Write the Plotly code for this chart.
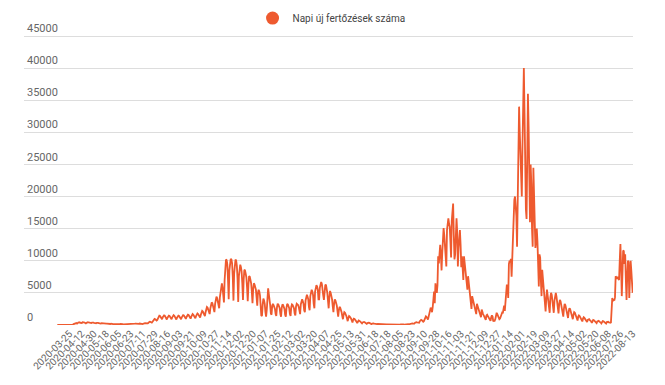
import pandas as pd
import plotly.graph_objects as go

series_name = "Napi új fertőzések száma"
line_color = "#EE5A2F"

# ---- category (date) axis --------------------------------------------------
daily_part_1 = pd.date_range("2020-03-07", "2021-06-18").strftime("%Y-%m-%d").tolist()
sparse_summer_2021 = [
    "2021-06-20", "2021-06-21", "2021-06-23", "2021-06-25", "2021-06-26", "2021-06-28",
    "2021-06-30", "2021-07-01", "2021-07-03", "2021-07-05", "2021-07-06", "2021-07-08",
    "2021-07-10", "2021-07-11", "2021-07-13", "2021-07-15", "2021-07-16",
]
daily_part_2 = pd.date_range("2021-07-18", "2022-06-05").strftime("%Y-%m-%d").tolist()
sparse_2022 = [
    "2022-06-07", "2022-06-08", "2022-06-15", "2022-06-22", "2022-06-29", "2022-07-06",
    "2022-07-13",
]
daily_part_3 = pd.date_range("2022-07-14", "2022-08-13").strftime("%Y-%m-%d").tolist()
dates = daily_part_1 + sparse_summer_2021 + daily_part_2 + sparse_2022 + daily_part_3

tick_labels = [
    "2020-03-07", "2020-03-25", "2020-04-12", "2020-04-30", "2020-05-18", "2020-06-05",
    "2020-06-23", "2020-07-11", "2020-07-29", "2020-08-16", "2020-09-03", "2020-09-21",
    "2020-10-09", "2020-10-27", "2020-11-14", "2020-12-02", "2020-12-20", "2021-01-07",
    "2021-01-25", "2021-02-12", "2021-03-02", "2021-03-20", "2021-04-07", "2021-04-25",
    "2021-05-13", "2021-05-31", "2021-06-18", "2021-07-18", "2021-08-05", "2021-08-23",
    "2021-09-10", "2021-09-28", "2021-10-16", "2021-11-03", "2021-11-21", "2021-12-09",
    "2021-12-27", "2022-01-14", "2022-02-01", "2022-02-19", "2022-03-09", "2022-03-27",
    "2022-04-14", "2022-05-02", "2022-05-20", "2022-06-08", "2022-07-26", "2022-08-13",
]

# ---- daily new infections ---------------------------------------------------
cases_2020 = [
    2, 0, 1, 3, 4, 2, 7,
    9, 6, 10, 13, 11, 19, 18,
    13, 8, 17, 34, 28, 26, 33,
    36, 47, 70, 150, 220, 250, 280,
    300, 220, 350, 400, 380, 420, 330,
    260, 310, 420, 450, 400, 380, 300,
    250, 330, 410, 430, 390, 350, 280,
    220, 300, 380, 400, 360, 320, 260,
    200, 270, 340, 360, 330, 280, 220,
    180, 230, 280, 270, 240, 200, 170,
    130, 170, 210, 220, 190, 160, 140,
    120, 160, 200, 210, 180, 150, 120,
    110, 150, 190, 200, 170, 140, 110,
    100, 140, 180, 190, 160, 130, 100,
    100, 150, 180, 200, 170, 140, 110,
    110, 160, 200, 210, 180, 150, 120,
    120, 170, 210, 220, 190, 160, 130,
    130, 180, 230, 240, 210, 180, 150,
    150, 200, 260, 280, 250, 220, 190,
    250, 350, 450, 520, 480, 420, 380,
    500, 700, 850, 950, 900, 800, 700,
    800, 1150, 1350, 1450, 1400, 1250, 1000,
    900, 1200, 1400, 1500, 1450, 1300, 1050,
    850, 1150, 1350, 1450, 1400, 1250, 1000,
    900, 1200, 1400, 1550, 1450, 1300, 1050,
    850, 1150, 1350, 1450, 1400, 1250, 1000,
    900, 1200, 1450, 1550, 1500, 1300, 1050,
    950, 1250, 1500, 1600, 1550, 1350, 1100,
    1000, 1300, 1550, 1700, 1600, 1400, 1150,
    1050, 1400, 1700, 1800, 1700, 1500, 1200,
    1150, 1600, 2000, 2200, 2100, 1900, 1500,
    1400, 2000, 2500, 2800, 2700, 2400, 1900,
    1700, 2600, 3200, 3500, 3400, 3000, 2400,
    2000, 3300, 4000, 4400, 4200, 3800, 3000,
    2600, 4300, 5200, 6300, 6500, 5800, 4400,
    3500, 7000, 9000, 10200, 10100, 9400, 7000,
    4000, 8500, 9800, 10300, 10200, 9600, 7500,
    3800, 8000, 9700, 10200, 10000, 9200, 7200,
    3600, 7600, 9000, 9400, 9000, 8300, 6500,
    3900, 7000, 8600, 8500, 8000, 7400, 5800,
    3700, 6200, 7600, 7500, 7000, 6500, 5200,
    3400, 5600, 6500, 6300, 6000, 5500, 4300,
]
cases_2021 = [
    3000, 5000, 5500, 5200, 4600, 3000, 1400,
    1500, 3200, 4100, 3800, 3300, 2000, 1300,
    2400, 5400, 5700, 4800, 4200, 3100, 1800,
    1600, 3000, 3300, 3100, 2900, 2500, 1700,
    1400, 2800, 3300, 3200, 3000, 2600, 1700,
    1300, 2700, 3200, 3100, 2900, 2500, 1600,
    1300, 2700, 3300, 3200, 3000, 2600, 1700,
    1400, 2800, 3200, 3100, 2900, 2600, 1800,
    1500, 2900, 3300, 3200, 3100, 2800, 2000,
    1700, 3200, 3800, 4000, 3700, 3300, 2300,
    2000, 3800, 4500, 4700, 4400, 4000, 2800,
    2300, 4500, 5300, 5500, 5200, 4700, 3300,
    2600, 5200, 6000, 6200, 6000, 5500, 4000,
    4000, 5800, 6500, 6700, 6400, 5800, 4600,
    3900, 5300, 6200, 6300, 5800, 5000, 3800,
    2600, 4300, 5300, 5000, 4600, 4000, 2900,
    2000, 3300, 4000, 3800, 3500, 3000, 2100,
    1300, 2300, 2800, 2700, 2400, 2000, 1400,
    900, 1600, 2000, 1900, 1700, 1400, 1000,
    600, 1100, 1400, 1300, 1200, 1000, 700,
    400, 800, 1000, 950, 850, 700, 500,
    300, 550, 700, 650, 600, 500, 350,
    250, 400, 500, 480, 430, 370, 260,
    180, 300, 380, 350, 320, 270, 200,
    130, 220, 280, 260, 230, 200, 150,
    100, 150, 180, 170, 150, 130, 100,
    70, 100, 120, 110, 100, 90, 70,
    50, 80, 90, 85, 80, 70, 50,
    40, 70, 80, 75, 70, 60, 45,
    45, 75, 90, 85, 80, 70, 55,
    60, 100, 120, 110, 100, 90, 70,
    90, 150, 180, 170, 160, 140, 110,
    150, 230, 280, 270, 250, 220, 180,
    230, 350, 430, 420, 400, 350, 280,
    350, 600, 750, 800, 750, 680, 500,
    600, 1000, 1300, 1350, 1250, 1100, 850,
    1300, 1900, 2300, 2700, 2400, 2000, 2800,
    4800, 5200, 3400, 6500, 5600, 5000, 6200,
    10700, 9600, 10900, 12500, 11000, 8500, 11200,
    13200, 15100, 14000, 11500, 10000, 9100, 14800,
    16000, 16600, 15800, 15300, 13000, 10500, 16200,
    17500, 18900, 14000, 10200, 11000, 14000, 16600,
    14500, 9100, 12000, 13800, 14800, 12500, 9000,
    10700, 9000, 7000, 10700, 9500, 8000, 7000,
    6200, 5500, 7600, 6400, 5000, 4500, 3800,
    2500, 4500, 4000, 3500, 3200, 2600, 1800,
    1700, 3300, 3000, 2700, 2400, 2000, 1500,
    1200, 2400, 1900, 1700, 1500, 1300, 900,
    800, 1500, 1600, 1400, 1200, 1000, 700,
    650, 1200, 1500, 1300, 570, 700, 650,
    900, 1600, 1900, 1700, 1500, 1300, 900,
]
cases_2022 = [
    1000, 1300, 1700, 1900, 1800, 2500, 3000,
    2200, 3500, 5000, 6300, 6000, 4200, 9500,
    10000, 9800, 10300, 7500, 10500, 14000, 17500,
    19500, 20000, 18500, 17000, 12200, 20000, 27000,
    34000, 30000, 26000, 22000, 20000, 28000, 35000,
    40000, 33000, 24000, 18000, 16500, 27000, 36000,
    31000, 21000, 16000, 25000, 22000, 15000, 12200,
    24500, 20000, 15000, 12000, 13000, 15000, 13000,
    9000, 6000, 11000, 10500, 7000, 4500, 8600,
    7000, 5500, 4800, 3300, 2100, 4200, 5500,
    4600, 3900, 2900, 1900, 4300, 5000, 4700,
    4000, 3200, 1900, 3800, 4700, 5000, 4400,
    3600, 2700, 1800, 3300, 3900, 3700, 3200,
    2700, 2000, 1300, 2600, 3300, 3100, 2600,
    2200, 1700, 1100, 2100, 2600, 2500, 2100,
    1800, 1400, 900, 1600, 2000, 1900, 1600,
    1400, 1100, 700, 1300, 1500, 1400, 1200,
    1100, 900, 550, 1000, 1200, 1100, 950,
    900, 700, 450, 800, 950, 900, 750,
    700, 550, 350, 650, 800, 750, 600,
    600, 450, 300, 550, 700, 650, 520,
    500, 400, 250, 500, 600, 560, 450,
    450, 350, 230, 450, 550, 500, 400,
    450, 380, 300, 3900, 4200, 3700, 4000,
    3800, 4300, 7600, 7400, 7200, 7500, 7300,
    7000, 10000, 12600, 9000, 4500, 8000, 11600,
    11500, 9500, 11000, 7000, 3900, 7500, 10000,
    9800, 4200, 7000, 10000, 8500, 6000, 5000,
]
cases = cases_2020 + cases_2021 + cases_2022
assert len(cases) == len(dates), (len(cases), len(dates))

y_ticks = [0, 5000, 10000, 15000, 20000, 25000, 30000, 35000, 40000, 45000]
y_tick_text = [str(v) for v in y_ticks]

font_family = "Roboto, 'Noto Sans', Arial, sans-serif"

fig = go.Figure()
fig.add_trace(go.Scatter(
    x=dates, y=cases, mode="lines", name=series_name, showlegend=False,
    line=dict(color=line_color, width=1.8),
))
# legend entry with a round marker
fig.add_trace(go.Scatter(
    x=[None], y=[None], mode="markers", name=series_name, showlegend=True,
    marker=dict(color=line_color, size=13, symbol="circle"),
))

# the page body adds an 8px offset, so the figure is 8px smaller each way
fig.update_layout(
    template="none",
    width=657, height=377,
    margin=dict(l=16, r=32, t=14, b=60, autoexpand=False),
    paper_bgcolor="white", plot_bgcolor="white",
    font=dict(family=font_family, size=11, color="#666666"),
    showlegend=True,
    legend=dict(
        orientation="h", x=0.505, xanchor="center",
        y=1.013, yanchor="middle", yref="paper",
        font=dict(size=10, color="#444444"),
        itemwidth=30, bgcolor="rgba(0,0,0,0)",
    ),
)
fig.update_xaxes(
    type="category", categoryorder="array", categoryarray=dates,
    tickmode="array", tickvals=tick_labels, ticktext=tick_labels,
    tickangle=-45, range=[-49, 846.5],
    showgrid=False, zeroline=False, showline=False, ticks="",
    tickfont=dict(size=10, color="#666666"),
)
fig.update_yaxes(
    range=[0, 47180], tickmode="array", tickvals=y_ticks, ticktext=y_tick_text,
    ticklabelposition="inside top",
    showgrid=True, gridcolor="#dddddd", gridwidth=1,
    zeroline=False, showline=False, ticks="",
    tickfont=dict(size=11, color="#666666"),
)

fig.write_html("out.html")
